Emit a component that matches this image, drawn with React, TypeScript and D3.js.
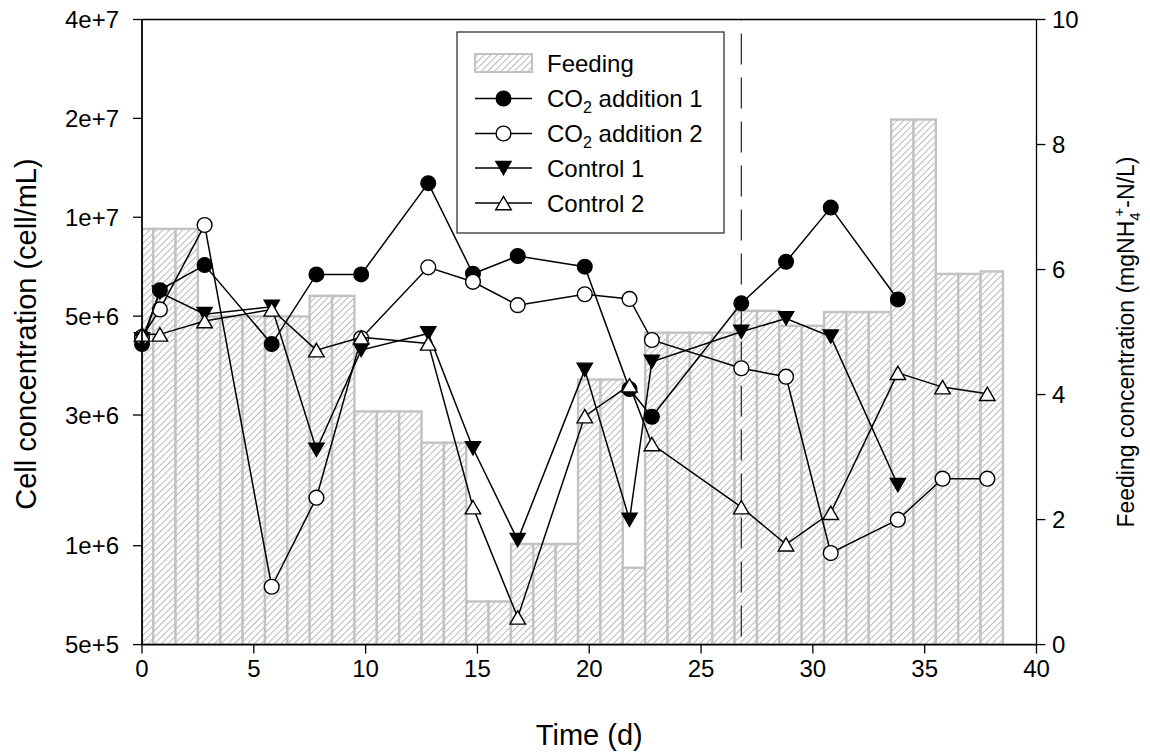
import React from "react";
import * as d3 from "d3";

// Sampling days for the cell counts
const sampleDays = [0, 0.8, 2.8, 5.8, 7.8, 9.8, 12.8, 14.8, 16.8, 19.8, 21.8, 22.8, 26.8, 28.8, 30.8, 33.8, 35.8, 37.8];

// Cell concentration (cell/mL)
const co2Addition1 = [4.11e6, 6.0e6, 7.15e6, 4.11e6, 6.7e6, 6.7e6, 1.27e7, 6.73e6, 7.62e6, 7.07e6, 3.0e6, 2.47e6, 5.47e6, 7.32e6, 1.07e7, 5.62e6];
const co2Addition2 = [4.32e6, 5.24e6, 9.47e6, 7.5e5, 1.4e6, 4.28e6, 7.04e6, 6.36e6, 5.4e6, 5.83e6, 5.64e6, 4.23e6, 3.47e6, 3.27e6, 9.5e5, 1.2e6, 1.6e6, 1.6e6];
const control1 = [4.25e6, 5.9e6, 5.07e6, 5.34e6, 1.96e6, 3.94e6, 4.43e6, 1.98e6, 1.04e6, 3.43e6, 1.2e6, 3.63e6, 4.48e6, 4.92e6, 4.33e6, 1.53e6];
const control2 = [4.4e6, 4.4e6, 4.83e6, 5.24e6, 3.94e6, 4.31e6, 4.13e6, 1.31e6, 6.05e5, 2.48e6, 3.08e6, 2.04e6, 1.31e6, 1.01e6, 1.26e6, 3.36e6, 3.04e6, 2.9e6];

// Daily feeding concentration (mgNH4+-N/L), day 0 .. 38
const feedingDays = d3.range(0, 39);
const feeding = [
  6.65, 6.65, 6.65, 5.25, 5.25, 5.25, 5.25, 5.25, 5.58, 5.58,
  3.73, 3.73, 3.73, 3.23, 3.23, 0.69, 0.69, 1.61, 1.61, 1.61,
  4.24, 4.24, 1.23, 4.99, 4.99, 4.99, 4.99, 5.34, 5.34, 5.1,
  5.1, 5.32, 5.32, 5.32, 8.4, 8.4, 5.93, 5.93, 5.97,
];

const xTicks = [0, 5, 10, 15, 20, 25, 30, 35, 40];
const yLeftTicks = [5e5, 1e6, 2.5e6, 5e6, 1e7, 2e7, 4e7];
const yRightTicks = [0, 2, 4, 6, 8, 10];
const switchDay = 26.8;

const FONT = "'Liberation Sans', Arial, Helvetica, sans-serif";

const X0 = 142;
const X1 = 1036.5;
const YB = 644.6;
const YT = 19.5;

const x = d3.scaleLinear().domain([0, 40]).range([X0, X1]);
const yLeft = d3.scaleLog().domain([5e5, 4e7]).range([YB, YT]);
const yRight = d3.scaleLinear().domain([0, 10]).range([YB, YT]);
const fmtE = d3.format(".0e");

type Shape = "circleFilled" | "circleOpen" | "triDown" | "triUp";

function Marker({ cx, cy, shape }: { cx: number; cy: number; shape: Shape }) {
  const r = 7.4;
  const s = 15.5;
  const h = (s * Math.sqrt(3)) / 2;
  if (shape === "circleFilled")
    return <circle cx={cx} cy={cy} r={r} fill="#000" stroke="#000" strokeWidth={1.2} />;
  if (shape === "circleOpen")
    return <circle cx={cx} cy={cy} r={r} fill="#fff" stroke="#000" strokeWidth={1.4} />;
  if (shape === "triDown")
    return (
      <path
        d={`M${cx - s / 2},${cy - h / 2}L${cx + s / 2},${cy - h / 2}L${cx},${cy + h / 2}Z`}
        fill="#000"
        stroke="#000"
        strokeWidth={1.2}
      />
    );
  return (
    <path
      d={`M${cx},${cy - h / 2}L${cx + s / 2},${cy + h / 2}L${cx - s / 2},${cy + h / 2}Z`}
      fill="#fff"
      stroke="#000"
      strokeWidth={1.4}
    />
  );
}

const series: { name: string; values: number[]; shape: Shape }[] = [
  { name: "co2-1", values: co2Addition1, shape: "circleFilled" },
  { name: "co2-2", values: co2Addition2, shape: "circleOpen" },
  { name: "ctrl-1", values: control1, shape: "triDown" },
  { name: "ctrl-2", values: control2, shape: "triUp" },
];

const line = d3
  .line<[number, number]>()
  .x((d) => x(d[0]))
  .y((d) => yLeft(d[1]));

export default function App() {
  const tickFont = 24;
  const legendFont = 24;
  const legX0 = 475;
  const legX1 = 532;
  const legTextX = 547;
  const legRows = [63, 98.5, 133.5, 168, 203];

  return (
    <svg width={1150} height={754} style={{ position: "absolute", left: 0, top: 0 }} fontFamily={FONT}>
      <defs>
        <pattern id="hatch" patternUnits="userSpaceOnUse" width={4.7} height={4.7} patternTransform="rotate(45)">
          <rect width={4.7} height={4.7} fill="#fff" />
          <line x1={0} y1={0} x2={0} y2={4.7} stroke="#b8b8b8" strokeWidth={2} />
        </pattern>
        <clipPath id="plotClip">
          <rect x={X0} y={YT} width={X1 - X0} height={YB - YT} />
        </clipPath>
      </defs>
      <rect width={1150} height={754} fill="#fff" />

      {/* feeding bars */}
      <g clipPath="url(#plotClip)">
        {feedingDays.map((d, i) => {
          const left = x(Math.max(0, d - 0.5));
          const right = x(d + 0.5);
          const top = yRight(feeding[i]);
          return (
            <rect
              key={d}
              x={left}
              y={top}
              width={right - left}
              height={YB - top}
              fill="url(#hatch)"
              stroke="#c2c2c2"
              strokeWidth={2.4}
            />
          );
        })}
      </g>

      {/* operating change */}
      <line
        x1={x(switchDay)}
        x2={x(switchDay)}
        y1={YT}
        y2={YB}
        stroke="#222"
        strokeWidth={1.2}
        strokeDasharray="31,13"
        strokeDashoffset={-14}
      />

      {/* series */}
      {series.map((s) => {
        const pts: [number, number][] = s.values.map((v, i) => [sampleDays[i], v]);
        return (
          <g key={s.name}>
            <path d={line(pts) || ""} fill="none" stroke="#000" strokeWidth={1.5} />
            {pts.map((p, i) => (
              <Marker key={i} cx={x(p[0])} cy={yLeft(p[1])} shape={s.shape} />
            ))}
          </g>
        );
      })}

      {/* frame */}
      <line x1={X0} x2={X1} y1={YT} y2={YT} stroke="#000" strokeWidth={1.3} />
      <line x1={X1} x2={X1} y1={YT} y2={YB} stroke="#000" strokeWidth={1.3} />
      <line x1={X0} x2={X1} y1={YB} y2={YB} stroke="#000" strokeWidth={1.8} />
      <line x1={X0} x2={X0} y1={YT} y2={YB} stroke="#000" strokeWidth={1.8} />

      {/* bottom axis */}
      {xTicks.map((t) => (
        <g key={t}>
          <line x1={x(t)} x2={x(t)} y1={YB} y2={YB + 9} stroke="#000" strokeWidth={1.3} />
          <text x={x(t)} y={YB + 32} fontSize={tickFont} textAnchor="middle">
            {t}
          </text>
        </g>
      ))}
      <text x={(X0 + X1) / 2} y={745} fontSize={29} textAnchor="middle">
        Time (d)
      </text>

      {/* left axis */}
      {yLeftTicks.map((t) => (
        <g key={t}>
          <line x1={X0 - 9} x2={X0} y1={yLeft(t)} y2={yLeft(t)} stroke="#000" strokeWidth={1.3} />
          <text x={119} y={yLeft(t) + 8.5} fontSize={tickFont} textAnchor="end">
            {fmtE(t)}
          </text>
        </g>
      ))}
      <text transform={`translate(36,${(YT + YB) / 2 + 2}) rotate(-90)`} fontSize={29} textAnchor="middle">
        Cell concentration (cell/mL)
      </text>

      {/* right axis */}
      {yRightTicks.map((t) => (
        <g key={t}>
          <line x1={X1} x2={X1 + 9} y1={yRight(t)} y2={yRight(t)} stroke="#000" strokeWidth={1.3} />
          <text x={1052} y={yRight(t) + 8.5} fontSize={tickFont} textAnchor="start">
            {t}
          </text>
        </g>
      ))}
      <text transform={`translate(1134,${(YT + YB) / 2 + 10}) rotate(-90)`} fontSize={23} textAnchor="middle">
        <tspan>Feeding concentration (mgNH</tspan>
        <tspan fontSize={15} dy={6}>4</tspan>
        <tspan fontSize={15} dy={-16} dx={-4}>+</tspan>
        <tspan dy={10}>-N/L)</tspan>
      </text>

      {/* legend */}
      <rect x={457} y={32} width={267} height={201} fill="#fff" stroke="#333" strokeWidth={1.3} />
      <rect x={legX0} y={54} width={legX1 - legX0} height={18} fill="url(#hatch)" stroke="#c2c2c2" strokeWidth={2} />
      <text x={legTextX} y={legRows[0] + 8.5} fontSize={legendFont}>
        Feeding
      </text>
      {series.map((s, i) => {
        const cy = legRows[i + 1];
        const labels = [
          <>
            CO<tspan fontSize={16} dy={6}>2</tspan>
            <tspan dy={-6}> addition 1</tspan>
          </>,
          <>
            CO<tspan fontSize={16} dy={6}>2</tspan>
            <tspan dy={-6}> addition 2</tspan>
          </>,
          <>Control 1</>,
          <>Control 2</>,
        ];
        return (
          <g key={s.name}>
            <line x1={legX0} x2={legX1} y1={cy} y2={cy} stroke="#000" strokeWidth={1.5} />
            <Marker cx={(legX0 + legX1) / 2} cy={cy} shape={s.shape} />
            <text x={legTextX} y={cy + 8.5} fontSize={legendFont}>
              {labels[i]}
            </text>
          </g>
        );
      })}
    </svg>
  );
}
